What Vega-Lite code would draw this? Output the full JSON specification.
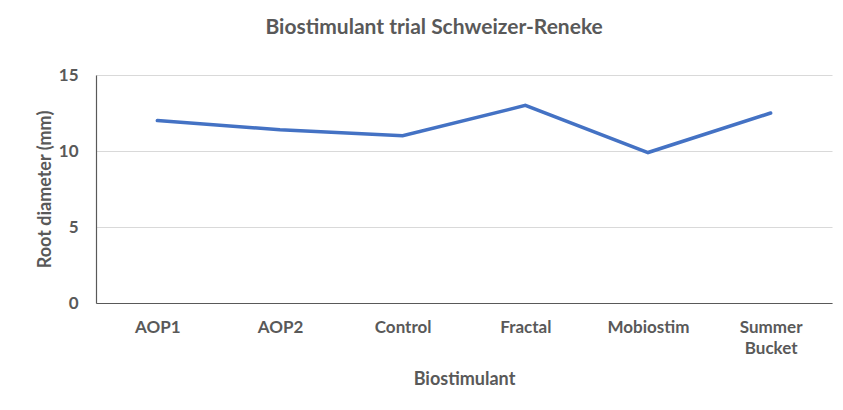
{
  "$schema": "https://vega.github.io/schema/vega-lite/v6.json",
  "width": 736,
  "height": 228,
  "autosize": "none",
  "padding": {"left": 96, "top": 75, "right": 11, "bottom": 107},
  "background": "white",
  "config": {"view": {"stroke": null}, "font": "Lato"},
  "title": {
    "text": "Biostimulant trial Schweizer-Reneke",
    "font": "Lato",
    "fontSize": 21,
    "fontWeight": "bold",
    "color": "#595959",
    "anchor": "middle",
    "frame": "bounds",
    "offset": 28
  },
  "data": {
    "values": [
      {"Biostimulant": "AOP1", "diameter": 12.0},
      {"Biostimulant": "AOP2", "diameter": 11.4},
      {"Biostimulant": "Control", "diameter": 11.0},
      {"Biostimulant": "Fractal", "diameter": 13.0},
      {"Biostimulant": "Mobiostim", "diameter": 9.9},
      {"Biostimulant": "Summer Bucket", "diameter": 12.5}
    ]
  },
  "mark": {"type": "line", "color": "#4472C4", "strokeWidth": 3.5, "strokeCap": "round"},
  "encoding": {
    "x": {
      "field": "Biostimulant",
      "type": "nominal",
      "sort": null,
      "scale": {"type": "point", "padding": 0.5},
      "axis": {
        "title": "Biostimulant",
        "titleFont": "Lato",
        "titleFontSize": 18,
        "titleFontWeight": "bold",
        "titleColor": "#595959",
        "titlePadding": 14,
        "labelFont": "Lato",
        "labelFontSize": 17,
        "labelFontWeight": "bold",
        "labelColor": "#595959",
        "labelAngle": 0,
        "labelPadding": 16,
        "labelLineHeight": 21,
        "labelExpr": "datum.label == 'Summer Bucket' ? ['Summer', 'Bucket'] : datum.label",
        "ticks": false,
        "grid": false,
        "domainColor": "#595959",
        "domainWidth": 1.2
      }
    },
    "y": {
      "field": "diameter",
      "type": "quantitative",
      "scale": {"domain": [0, 15], "nice": false},
      "axis": {
        "title": "Root diameter (mm)",
        "titleFont": "Lato",
        "titleFontSize": 18,
        "titleFontWeight": "bold",
        "titleColor": "#595959",
        "titlePadding": 4,
        "values": [0, 5, 10, 15],
        "labelFont": "Lato",
        "labelFontSize": 17,
        "labelFontWeight": "bold",
        "labelColor": "#595959",
        "labelPadding": 18,
        "ticks": false,
        "grid": true,
        "gridColor": "#d9d9d9",
        "gridWidth": 1,
        "domainColor": "#595959",
        "domainWidth": 1.2
      }
    }
  }
}
